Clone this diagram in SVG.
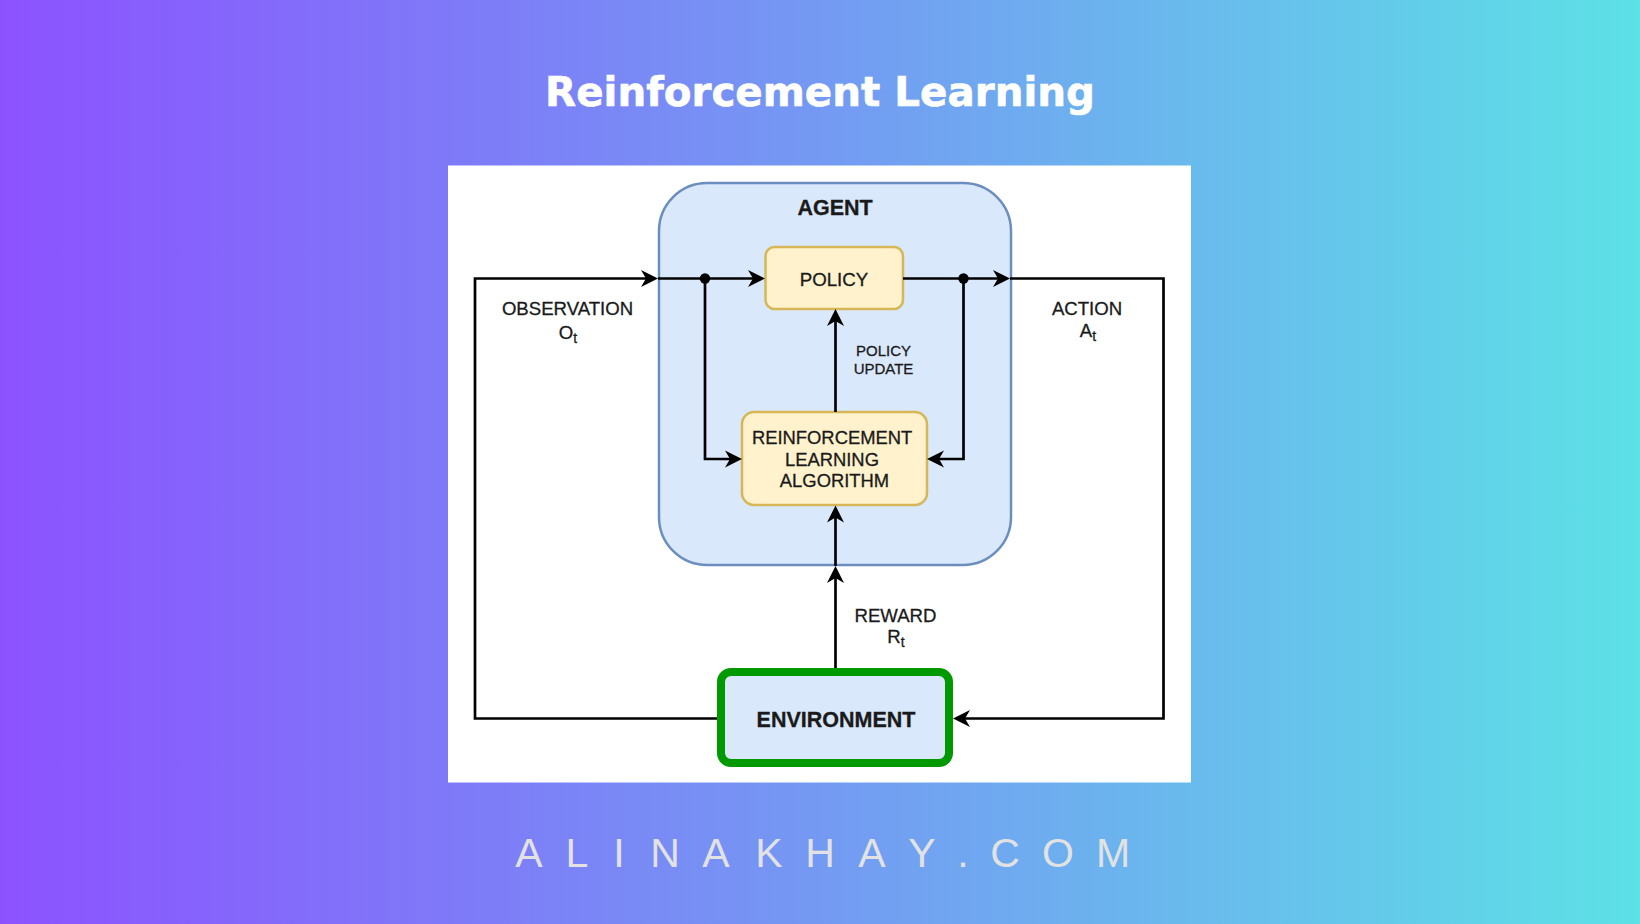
<svg xmlns="http://www.w3.org/2000/svg" width="1640" height="924" viewBox="0 0 1640 924">
  <defs>
    <linearGradient id="bg" x1="0" y1="0" x2="1" y2="0">
      <stop offset="0" stop-color="#8C52FF"/>
      <stop offset="1" stop-color="#5CE1E6"/>
    </linearGradient>
    <marker id="arr" markerUnits="userSpaceOnUse" viewBox="-14 -10 22 20" refX="0" refY="0" markerWidth="22" markerHeight="20" orient="auto" overflow="visible">
      <path d="M6,0 L-11,-8.5 L-6,0 L-11,8.5 Z" fill="#000"/>
    </marker>
  </defs>
  <style>
    .lbl { font-family: "Liberation Sans", Arial, sans-serif; fill: #1a1a1a; stroke: #1a1a1a; stroke-width: 0.3; text-anchor: middle; }
    .bold { font-weight: bold; }
    .conn { fill: none; stroke: #000; stroke-width: 2.7; }
    .a { marker-end: url(#arr); }
  </style>

  <rect x="0" y="0" width="1640" height="924" fill="url(#bg)"/>

  <g id="title">
    <text x="820" y="105.7" font-family="'DejaVu Sans', 'Liberation Sans', sans-serif" font-weight="bold" font-size="40.4" fill="#fff" stroke="#fff" stroke-width="0.6" text-anchor="middle">Reinforcement Learning</text>
  </g>

  <g id="panel">
    <rect x="448" y="165.5" width="743" height="617" fill="#fff"/>
  </g>

  <g id="agent">
    <rect x="659" y="183" width="352" height="382" rx="48" ry="48" fill="#dae8fc" stroke="#6c8ebf" stroke-width="2.5"/>
    <text class="lbl bold" x="835" y="215" font-size="21.5">AGENT</text>
  </g>

  <g id="policy">
    <rect x="765.5" y="247" width="137.5" height="62" rx="9" ry="9" fill="#fff2cc" stroke="#d6b656" stroke-width="2.5"/>
    <text class="lbl" x="834" y="285.5" font-size="18.7">POLICY</text>
  </g>

  <g id="rl-algorithm">
    <rect x="742" y="412" width="185" height="93" rx="12" ry="12" fill="#fff2cc" stroke="#d6b656" stroke-width="2.5"/>
    <text class="lbl" x="834.5" font-size="18.4">
      <tspan x="834.5" y="444">REINFORCEMENT</tspan>
      <tspan x="834.5" y="465.5">LEARNING</tspan>
      <tspan x="834.5" y="487">ALGORITHM</tspan>
    </text>
  </g>

  <g id="environment">
    <rect x="721" y="672" width="228" height="91" rx="10" ry="10" fill="#dae8fc" stroke="#009900" stroke-width="8"/>
    <text class="lbl bold" x="836" y="727" font-size="21.5">ENVIRONMENT</text>
  </g>

  <g id="connectors">
    <path class="conn a" d="M717,718.5 H475 V278.5 H652"/>
    <path class="conn a" d="M658,278.5 H759"/>
    <path class="conn a" d="M705,278.5 V459 H736"/>
    <path class="conn a" d="M903,278.5 H1004"/>
    <path class="conn a" d="M963.5,278.5 V459 H933"/>
    <path class="conn a" d="M1010,278.5 H1163.5 V718.5 H959"/>
    <path class="conn a" d="M835.5,412 V315"/>
    <path class="conn a" d="M835.5,668 V572"/>
    <path class="conn a" d="M835.5,566 V511.5"/>
    <circle cx="705" cy="278.5" r="5.2" fill="#000"/>
    <circle cx="963.5" cy="278.5" r="5.2" fill="#000"/>
  </g>

  <g id="labels">
    <text class="lbl" x="567.5" y="315" font-size="18.6">OBSERVATION</text>
    <text class="lbl" x="568" y="338.5" font-size="18.6">O<tspan font-size="14" dy="4">t</tspan></text>
    <text class="lbl" x="1087" y="315" font-size="18.6">ACTION</text>
    <text class="lbl" x="1088" y="336.5" font-size="18.6">A<tspan font-size="14" dy="4">t</tspan></text>
    <text class="lbl" x="883.5" y="356" font-size="15">POLICY</text>
    <text class="lbl" x="883.5" y="373.5" font-size="15">UPDATE</text>
    <text class="lbl" x="895.5" y="621.5" font-size="18.6">REWARD</text>
    <text class="lbl" x="896" y="643" font-size="18.6">R<tspan font-size="14" dy="4">t</tspan></text>
  </g>

  <g id="footer">
    <text font-family="'Liberation Sans', Arial, sans-serif" font-size="41" fill="#e2e2e2" text-anchor="middle" x="529 577 619 665 716 769 820 872 922 963 1005 1058 1113" y="867">ALINAKHAY.COM</text>
  </g>
</svg>
